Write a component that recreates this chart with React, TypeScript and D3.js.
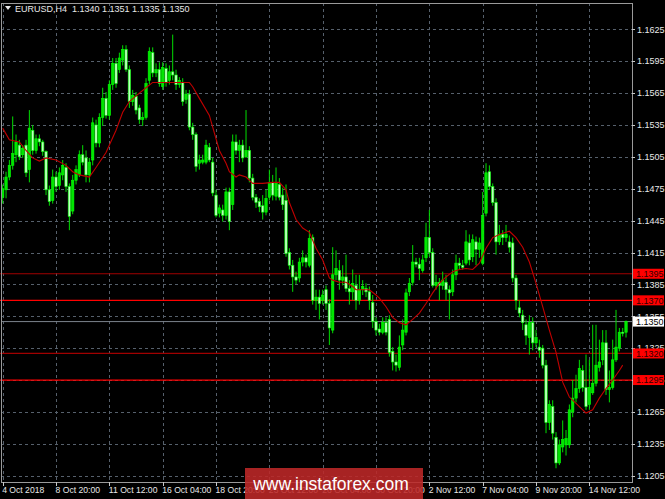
import React from "react";
import * as d3 from "d3";

const opens = [1.1467,1.1474,1.1486,1.1497,1.1507,1.1516,1.1507,1.1516,1.1493,1.1530,
1.1511,1.1522,1.1519,1.1510,1.1474,1.1464,1.1486,1.1478,1.1488,1.1495,
1.1477,1.1454,1.1483,1.1488,1.1507,1.1504,1.1488,1.1502,1.1535,1.1518,
1.1542,1.1560,1.1544,1.1573,1.1593,1.1587,1.1596,1.1606,1.1587,1.1557,
1.1562,1.1551,1.1540,1.1542,1.1577,1.1603,1.1584,1.1587,1.1571,1.1588,
1.1577,1.1585,1.1582,1.1573,1.1575,1.1559,1.1564,1.1533,1.1526,1.1499,
1.1500,1.1500,1.1514,1.1500,1.1469,1.1452,1.1455,1.1450,1.1472,1.1460,
1.1519,1.1511,1.1516,1.1505,1.1511,1.1485,1.1467,1.1463,1.1459,1.1453,
1.1467,1.1481,1.1468,1.1479,1.1469,1.1464,1.1415,1.1403,1.1392,1.1391,
1.1406,1.1410,1.1403,1.1429,1.1370,1.1373,1.1370,1.1380,1.1367,1.1342,
1.1394,1.1398,1.1389,1.1392,1.1381,1.1378,1.1384,1.1370,1.1380,1.1381,
1.1378,1.1368,1.1350,1.1343,1.1340,1.1349,1.1352,1.1322,1.1312,1.1307,
1.1328,1.1340,1.1378,1.1387,1.1406,1.1404,1.1398,1.1410,1.1429,1.1415,
1.1384,1.1387,1.1384,1.1387,1.1380,1.1378,1.1394,1.1405,1.1403,1.1405,
1.1424,1.1411,1.1425,1.1418,1.1405,1.1452,1.1491,1.1477,1.1462,1.1425,
1.1432,1.1429,1.1425,1.1424,1.1391,1.1363,1.1356,1.1347,1.1335,1.1349,
1.1330,1.1326,1.1325,1.1309,1.1255,1.1270,1.1241,1.1217,1.1232,1.1234,
1.1234,1.1265,1.1278,1.1287,1.1304,1.1288,1.1272,1.1283,1.1292,1.1307,
1.1314,1.1330,1.1286,1.1288,1.1314,1.1325,1.1340,1.1340];

const closes = [1.1475,1.1486,1.1497,1.1508,1.1519,1.1505,1.1513,1.1490,1.1532,1.1511,
1.1522,1.1519,1.1510,1.1474,1.1463,1.1486,1.1477,1.1490,1.1497,1.1477,
1.1449,1.1483,1.1493,1.1507,1.1500,1.1488,1.1500,1.1537,1.1518,1.1542,
1.1560,1.1544,1.1573,1.1593,1.1574,1.1598,1.1606,1.1587,1.1557,1.1563,
1.1549,1.1540,1.1542,1.1574,1.1604,1.1584,1.1587,1.1574,1.1589,1.1575,
1.1585,1.1582,1.1573,1.1577,1.1557,1.1564,1.1533,1.1526,1.1496,1.1502,
1.1502,1.1516,1.1502,1.1471,1.1450,1.1457,1.1450,1.1472,1.1444,1.1519,
1.1511,1.1516,1.1504,1.1511,1.1485,1.1467,1.1462,1.1458,1.1453,1.1466,
1.1481,1.1469,1.1481,1.1467,1.1460,1.1414,1.1403,1.1392,1.1389,1.1406,
1.1410,1.1406,1.1428,1.1370,1.1373,1.1367,1.1375,1.1367,1.1344,1.1394,
1.1400,1.1389,1.1392,1.1381,1.1378,1.1386,1.1370,1.1380,1.1383,1.1378,
1.1370,1.1350,1.1342,1.1340,1.1349,1.1340,1.1321,1.1312,1.1309,1.1326,
1.1342,1.1377,1.1386,1.1406,1.1404,1.1400,1.1408,1.1429,1.1415,1.1384,
1.1387,1.1384,1.1389,1.1380,1.1377,1.1394,1.1405,1.1403,1.1401,1.1425,
1.1408,1.1427,1.1418,1.1424,1.1450,1.1490,1.1477,1.1462,1.1425,1.1432,
1.1429,1.1432,1.1420,1.1391,1.1370,1.1358,1.1349,1.1337,1.1349,1.1330,
1.1335,1.1323,1.1309,1.1255,1.1272,1.1245,1.1217,1.1234,1.1239,1.1240,
1.1267,1.1278,1.1287,1.1306,1.1288,1.1270,1.1288,1.1292,1.1309,1.1312,
1.1330,1.1286,1.1288,1.1314,1.1326,1.1340,1.1339,1.1350];

const highs = [1.1479,1.1491,1.1502,1.1543,1.1526,1.1521,1.1516,1.1521,1.1549,1.1535,
1.1526,1.1526,1.1521,1.1511,1.1478,1.1493,1.1491,1.1495,1.1502,1.1499,
1.1480,1.1488,1.1497,1.1511,1.1516,1.1511,1.1504,1.1542,1.1540,1.1546,
1.1570,1.1566,1.1577,1.1598,1.1598,1.1603,1.1610,1.1610,1.1591,1.1568,
1.1566,1.1554,1.1547,1.1579,1.1608,1.1608,1.1593,1.1594,1.1594,1.1593,
1.1591,1.1620,1.1587,1.1580,1.1579,1.1568,1.1568,1.1537,1.1528,1.1507,
1.1507,1.1521,1.1518,1.1504,1.1474,1.1460,1.1460,1.1476,1.1476,1.1526,
1.1526,1.1521,1.1521,1.1549,1.1515,1.1489,1.1470,1.1466,1.1469,1.1474,
1.1493,1.1488,1.1495,1.1485,1.1476,1.1479,1.1419,1.1408,1.1397,1.1410,
1.1417,1.1413,1.1436,1.1432,1.1380,1.1380,1.1380,1.1384,1.1371,1.1420,
1.1417,1.1408,1.1403,1.1413,1.1389,1.1399,1.1394,1.1394,1.1389,1.1386,
1.1383,1.1375,1.1354,1.1348,1.1354,1.1354,1.1356,1.1326,1.1319,1.1337,
1.1352,1.1381,1.1391,1.1422,1.1410,1.1410,1.1413,1.1443,1.1455,1.1419,
1.1394,1.1391,1.1397,1.1394,1.1384,1.1399,1.1413,1.1410,1.1408,1.1436,
1.1432,1.1432,1.1430,1.1429,1.1472,1.1499,1.1497,1.1480,1.1466,1.1441,
1.1436,1.1441,1.1431,1.1429,1.1394,1.1370,1.1361,1.1352,1.1356,1.1354,
1.1342,1.1333,1.1328,1.1314,1.1276,1.1276,1.1246,1.1239,1.1257,1.1248,
1.1272,1.1295,1.1300,1.1314,1.1309,1.1319,1.1314,1.1347,1.1347,1.1333,
1.1342,1.1342,1.1304,1.1333,1.1361,1.1344,1.1344,1.1351];

const lows = [1.1461,1.1466,1.1483,1.1493,1.1500,1.1502,1.1504,1.1486,1.1481,1.1507,
1.1508,1.1515,1.1506,1.1469,1.1459,1.1461,1.1472,1.1474,1.1483,1.1472,
1.1436,1.1451,1.1479,1.1486,1.1497,1.1481,1.1481,1.1497,1.1514,1.1514,
1.1534,1.1541,1.1540,1.1568,1.1570,1.1584,1.1591,1.1585,1.1551,1.1553,
1.1545,1.1536,1.1534,1.1540,1.1573,1.1580,1.1580,1.1571,1.1568,1.1571,
1.1573,1.1577,1.1568,1.1570,1.1553,1.1555,1.1530,1.1521,1.1491,1.1493,
1.1498,1.1498,1.1500,1.1468,1.1448,1.1448,1.1444,1.1446,1.1436,1.1455,
1.1507,1.1500,1.1500,1.1504,1.1481,1.1464,1.1457,1.1453,1.1446,1.1450,
1.1464,1.1464,1.1464,1.1464,1.1455,1.1411,1.1399,1.1378,1.1385,1.1387,
1.1402,1.1401,1.1401,1.1366,1.1361,1.1352,1.1366,1.1361,1.1328,1.1339,
1.1389,1.1380,1.1384,1.1378,1.1366,1.1370,1.1361,1.1366,1.1375,1.1373,
1.1361,1.1344,1.1337,1.1337,1.1338,1.1337,1.1317,1.1304,1.1303,1.1304,
1.1323,1.1337,1.1374,1.1384,1.1401,1.1389,1.1396,1.1406,1.1411,1.1382,
1.1380,1.1370,1.1380,1.1370,1.1352,1.1374,1.1389,1.1399,1.1399,1.1403,
1.1403,1.1406,1.1403,1.1410,1.1403,1.1449,1.1474,1.1459,1.1413,1.1422,
1.1422,1.1425,1.1415,1.1387,1.1361,1.1354,1.1342,1.1328,1.1319,1.1323,
1.1326,1.1316,1.1306,1.1245,1.1248,1.1239,1.1212,1.1215,1.1227,1.1224,
1.1231,1.1260,1.1274,1.1283,1.1284,1.1267,1.1267,1.1281,1.1289,1.1303,
1.1309,1.1281,1.1274,1.1286,1.1312,1.1322,1.1336,1.1335];

const maIdx = [0,2,5,7,9,11,13,16,19,21,23,26,28,31,34,36,38,41,43,45,48,51,54,56,57,59,62,63,65,67,
68,70,71,73,75,78,81,83,85,86,88,90,92,94,96,98,99,101,103,105,106,108,110,112,113,115,117,119,121,123,
125,127,129,131,133,135,137,139,141,143,145,147,149,151,152,154,156,158,160,162,164,166,168,170,172,174,175,177,179,181,
183,185,186];
const maVals = [1.1532,1.1521,1.1519,1.1511,1.1504,1.1501,1.1504,1.1502,1.1497,1.1491,
1.1488,1.1486,1.1495,1.1509,1.1530,1.1547,1.1557,1.1565,1.1570,1.1575,
1.1575,1.1575,1.1575,1.1575,1.1571,1.1560,1.1544,1.1533,1.1511,1.1499,
1.1491,1.1486,1.1488,1.1486,1.1480,1.1480,1.1481,1.1481,1.1474,1.1462,
1.1446,1.1438,1.1434,1.1419,1.1408,1.1391,1.1389,1.1387,1.1387,1.1383,
1.1380,1.1380,1.1380,1.1375,1.1372,1.1364,1.1354,1.1349,1.1347,1.1352,
1.1358,1.1367,1.1377,1.1386,1.1392,1.1397,1.1399,1.1400,1.1399,1.1405,
1.1419,1.1429,1.1432,1.1434,1.1435,1.1429,1.1420,1.1406,1.1386,1.1364,
1.1342,1.1321,1.1293,1.1279,1.1273,1.1267,1.1264,1.1267,1.1278,1.1287,
1.1295,1.1304,1.1309];

const priceTicks = [1.1625,1.1595,1.1565,1.1535,1.1505,1.1475,1.1445,1.1415,1.1385,1.1355,1.1325,1.1295,1.1265,1.1235,1.1205];
const dateLabels = ["4 Oct 2018","8 Oct 20:00","11 Oct 12:00","16 Oct 04:00","18 Oct 20:00","23 Oct 12:00","26 Oct 04:00","30 Oct 20:00","2 Nov 12:00","7 Nov 04:00","9 Nov 20:00","14 Nov 12:00"];
const dateBars = [0,16,32,48,64,80,96,112,128,144,160,176];
const levels = [1.1395,1.1370,1.1320,1.1295];
const levelColors = ["#a00000","#ff0000","#a00000","#ff0000"];
const currentPrice = 1.1350;
const title = "EURUSD,H4  1.1340 1.1351 1.1335 1.1350";

const FONT = "'Liberation Sans', Arial, sans-serif";

export default function App() {
  const W = 665, H = 499;
  const left = 1, top = 3, right = 632, bottom = 482;
  const y = d3.scaleLinear().domain([1.1205, 1.1625]).range([475.7, 29.3]);
  const x = d3.scaleLinear().domain([0, 187]).range([2.7, 2.7 + 3.3333 * 187]);
  const bw = 2.4;
  const maLine = d3.line<number>().x((d, i) => x(maIdx[i])).y(d => y(d)).curve(d3.curveLinear);
  const fmt = d3.format(".4f");
  const gridColor = "#56606c";
  return (
    <svg width={W} height={H} style={{ position: "absolute", left: 0, top: 0, background: "#000" }}>
      <rect x={0} y={0} width={W} height={H} fill="#000" />
      {priceTicks.map((p, i) => (
        <line key={"hg" + i} x1={left} x2={right} y1={Math.round(y(p)) + 0.5} y2={Math.round(y(p)) + 0.5}
          stroke={gridColor} strokeDasharray="3,3" strokeWidth={1} />
      ))}
      {dateBars.map((b, i) => (
        <line key={"vg" + i} x1={Math.round(x(b)) + 0.5} x2={Math.round(x(b)) + 0.5} y1={top} y2={bottom}
          stroke={gridColor} strokeDasharray="3,3" strokeWidth={1} />
      ))}
      {levels.map((p, i) => (
        <line key={"lv" + i} x1={0} x2={right} y1={y(p)} y2={y(p)} stroke={levelColors[i]} strokeWidth={1.2} />
      ))}
      <line x1={left} x2={right} y1={y(currentPrice)} y2={y(currentPrice)} stroke="#7c848c" strokeWidth={1} />
      {opens.map((o, i) => {
        const c = closes[i];
        const hi = Math.max(highs[i], o, c);
        const lo = Math.min(lows[i], o, c);
        const cx = x(i);
        const bull = c >= o;
        const yTop = y(Math.max(o, c));
        const yBot = y(Math.min(o, c));
        return (
          <g key={"c" + i}>
            <line x1={cx} x2={cx} y1={y(hi)} y2={y(lo)} stroke="#00dd00" strokeWidth={1} />
            <rect x={cx - bw / 2} y={yTop} width={bw} height={Math.max(1, yBot - yTop)}
              fill={bull ? "#00e600" : "#bfffbf"} stroke="#00ff00" strokeWidth={0.6} />
          </g>
        );
      })}
      <path d={maLine(maVals) || ""} fill="none" stroke="#c00000" strokeWidth={1.1} />
      <rect x={left + 0.5} y={top + 0.5} width={right - left} height={bottom - top} fill="none" stroke="#9a9a9a" strokeWidth={1} />
      {priceTicks.map((p, i) => (
        <g key={"pt" + i}>
          <line x1={right} x2={right + 3} y1={Math.round(y(p)) + 0.5} y2={Math.round(y(p)) + 0.5} stroke="#c8c8c8" />
          <text x={637} y={y(p) + 3.3} fill="#e8e8e8" fontSize={9} fontFamily={FONT}>{fmt(p)}</text>
        </g>
      ))}
      {dateBars.map((b, i) => (
        <g key={"dt" + i}>
          <line x1={Math.round(x(b)) + 0.5} x2={Math.round(x(b)) + 0.5} y1={bottom} y2={bottom + 4} stroke="#c8c8c8" />
          <text x={x(b) - 0.5} y={493} fill="#e8e8e8" fontSize={8.6} fontFamily={FONT}>{dateLabels[i]}</text>
        </g>
      ))}
      {levels.map((p, i) => (
        <g key={"ll" + i}>
          <rect x={633} y={y(p) - 5} width={31} height={10} fill="#ff0000" />
          <text x={636} y={y(p) + 3.3} fill="#300000" fontSize={9} fontFamily={FONT}>{fmt(p)}</text>
        </g>
      ))}
      <rect x={633} y={y(currentPrice) - 5} width={31} height={10} fill="#ffffff" />
      <text x={636} y={y(currentPrice) + 3.3} fill="#000" fontSize={9} fontFamily={FONT}>{fmt(currentPrice)}</text>
      <path d="M5,6 L11,6 L8,10 Z" fill="#e8e8e8" />
      <text x={15} y={11.5} fill="#e8e8e8" fontSize={9} fontFamily={FONT} xmlSpace="preserve">{title}</text>
      <rect x={245} y={468} width={178} height={31} fill="rgba(190,40,40,0.88)" />
      <text x={331} y={490} fill="#ffffff" fontSize={17.5} fontFamily={FONT} textAnchor="middle">www.instaforex.com</text>
    </svg>
  );
}
